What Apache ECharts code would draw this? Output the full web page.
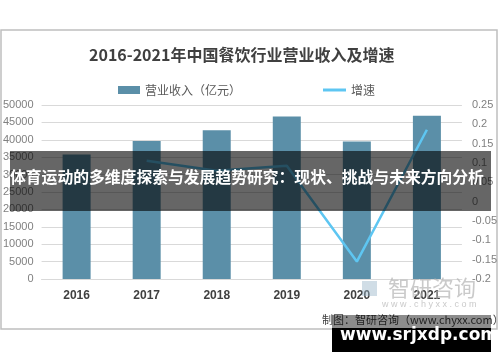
<!DOCTYPE html>
<html><head><meta charset="utf-8">
<script src="https://cdn.jsdelivr.net/npm/echarts@6/dist/echarts.min.js"></script>
<style>html,body{margin:0;padding:0;background:#fff}#c{width:500px;height:362px}</style>
</head><body><div id="c"></div>
<script>
var categories = ['2016','2017','2018','2019','2020','2021'];
var revenue = [35799, 39644, 42716, 46721, 39527, 46895];
var growth = [null, 0.106, 0.08, 0.093, -0.155, 0.186];
var leftTicks = {min: 0, max: 50000, interval: 5000};
var rightTicks = {min: -0.2, max: 0.25, interval: 0.05};
var titleText = '2016-2021年中国餐饮行业营业收入及增速';
var barName = '营业收入（亿元）';
var lineName = '增速';
var bannerText = '体育运动的多维度探索与发展趋势研究：现状、挑战与未来方向分析';
var sourceText = '制图：智研咨询（www.chyxx.com）';
var siteText = 'www.srjxdp.com';

var cjk = '"Noto Sans CJK SC", sans-serif';
var chart = echarts.init(document.getElementById('c'), null, {renderer: 'canvas'});
chart.setOption({
  animation: false,
  backgroundColor: '#fff',
  title: {text: titleText, left: 84, top: 42, textStyle: {fontFamily: cjk, fontSize: 16, fontWeight: 'bold', color: '#404040'}},
  legend: [{
    top: 79, left: 113, itemWidth: 22, itemHeight: 8,
    textStyle: {fontFamily: cjk, fontSize: 12, color: '#595959'},
    data: [{name: barName, icon: 'rect'}]
  }, {
    top: 79, left: 318, itemWidth: 23, itemHeight: 3,
    textStyle: {fontFamily: cjk, fontSize: 12, color: '#595959'},
    data: [{name: lineName, icon: 'rect'}]
  }],
  grid: {left: 38, right: 37, top: 105, bottom: 83},
  xAxis: {
    type: 'category', data: categories,
    axisLine: {lineStyle: {color: '#d9d9d9'}}, axisTick: {show: false},
    axisLabel: {fontFamily: '"Liberation Sans", sans-serif', fontWeight: 'bold', fontSize: 12, color: '#404040', margin: 11}
  },
  yAxis: [{
    type: 'value', min: leftTicks.min, max: leftTicks.max, interval: leftTicks.interval,
    axisLine: {show: false}, axisTick: {show: false},
    splitLine: {lineStyle: {color: '#d9d9d9'}},
    axisLabel: {fontFamily: '"Liberation Sans", sans-serif', fontSize: 11, color: '#808080', margin: 8,
      formatter: function (v) { return String(v); }}
  }, {
    type: 'value', position: 'right', min: rightTicks.min, max: rightTicks.max, interval: rightTicks.interval,
    axisLine: {show: false}, axisTick: {show: false}, splitLine: {show: false},
    axisLabel: {fontFamily: '"Liberation Sans", sans-serif', fontSize: 11, color: '#808080', margin: 10,
      formatter: function (v) { return String(Math.round(v * 100) / 100); }}
  }],
  series: [{
    name: barName, type: 'bar', data: revenue, barWidth: 28, yAxisIndex: 0,
    itemStyle: {color: '#5b8fa8'}
  }, {
    name: lineName, type: 'line', data: growth, yAxisIndex: 1, symbol: 'none',
    lineStyle: {color: '#5ec6f2', width: 2.5}, itemStyle: {color: '#5ec6f2'}
  }],
  graphic: [
    {type: 'rect', z: -10, shape: {x: 1, y: 30, width: 496, height: 299}, style: {fill: 'none', stroke: '#bfbfbf', lineWidth: 1.5}},
    {type: 'text', z: 50, left: 388, top: 277, style: {text: '智研咨询', fontFamily: cjk, fontSize: 22, fill: 'rgba(180,180,180,0.7)'}},
    {type: 'rect', z: 50, shape: {x: 362, y: 281, width: 15, height: 15}, style: {fill: 'rgba(150,180,200,0.45)'}},
    {type: 'text', z: 50, left: 382, top: 300, style: {text: 'w w w . c h y x x . c o m', fontFamily: '"Liberation Sans", sans-serif', fontSize: 9, fill: 'rgba(180,180,180,0.7)'}},
    {type: 'text', z: 60, left: 322, top: 314, style: {text: sourceText, fontFamily: cjk, fontSize: 11, fill: '#404040'}},
    {type: 'rect', z: 70, shape: {x: 10, y: 151, width: 481, height: 60}, style: {fill: 'rgba(0,0,0,0.6)'}},
    {type: 'text', z: 71, left: 10, top: 169, style: {text: bannerText, fontFamily: cjk, fontSize: 15.8, fontWeight: 'bold', fill: '#fff'}},
    {type: 'rect', z: 70, shape: {x: 332, y: 315, width: 159, height: 13}, style: {fill: 'rgba(0,0,0,0.45)'}},
    {type: 'rect', z: 70, shape: {x: 332, y: 328, width: 159, height: 24}, style: {fill: '#000'}},
    {type: 'text', z: 71, left: 340, top: 327, style: {text: siteText, fontFamily: '"DejaVu Sans", sans-serif', fontSize: 17, fontWeight: 'bold', fill: '#fff'}}
  ]
});
</script></body></html>
